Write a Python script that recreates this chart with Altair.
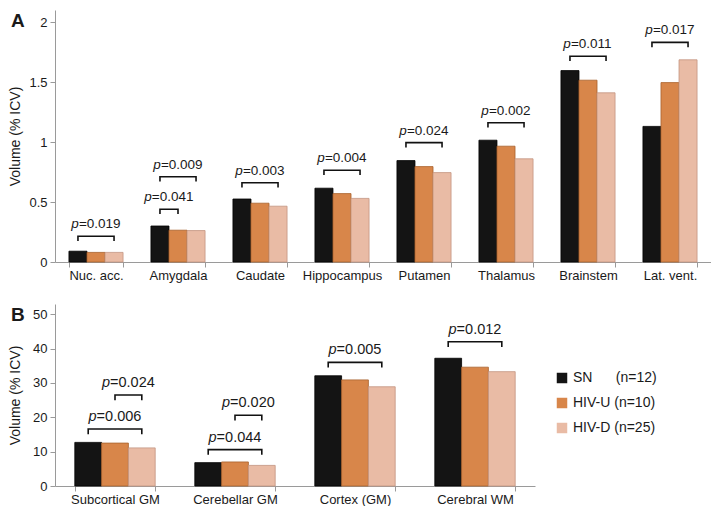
import altair as alt
import pandas as pd

FONT = "Liberation Sans"
NB = "\u00a0"

groups = ["SN", "HIV-U", "HIV-D"]
legend_labels = ["SN" + NB * 6 + "(n=12)", "HIV-U (n=10)", "HIV-D (n=25)"]
colors = ["#141414", "#d8864a", "#e9bba5"]
edge_colors = ["#000000", "#a8622d", "#c39480"]

# Panel A
regions_a = ["Nuc. acc.", "Amygdala", "Caudate", "Hippocampus", "Putamen",
             "Thalamus", "Brainstem", "Lat. vent."]
sn_a = [0.09, 0.30, 0.525, 0.615, 0.845, 1.015, 1.595, 1.13]
hivu_a = [0.08, 0.265, 0.49, 0.57, 0.795, 0.965, 1.515, 1.495]
hivd_a = [0.08, 0.262, 0.465, 0.53, 0.745, 0.86, 1.41, 1.685]

br_a_region = ["Nuc. acc.", "Amygdala", "Amygdala", "Caudate", "Hippocampus",
               "Putamen", "Thalamus", "Brainstem", "Lat. vent."]
br_a_from = ["SN", "SN", "SN", "SN", "SN", "SN", "SN", "SN", "SN"]
br_a_to = ["HIV-D", "HIV-U", "HIV-D", "HIV-D", "HIV-D", "HIV-D", "HIV-D", "HIV-D", "HIV-D"]
br_a_level = [0.215, 0.44, 0.71, 0.66, 0.765, 0.995, 1.16, 1.715, 1.83]
br_a_label = ["=0.019", "=0.041", "=0.009", "=0.003", "=0.004", "=0.024",
              "=0.002", "=0.011", "=0.017"]

# Panel B
regions_b = ["Subcortical GM", "Cerebellar GM", "Cortex (GM)", "Cerebral WM"]
sn_b = [12.7, 6.8, 32.1, 37.2]
hivu_b = [12.5, 7.0, 30.9, 34.6]
hivd_b = [11.1, 6.0, 28.9, 33.3]

br_b_region = ["Subcortical GM", "Subcortical GM", "Cerebellar GM", "Cerebellar GM",
               "Cortex (GM)", "Cerebral WM"]
br_b_from = ["SN", "HIV-U", "SN", "HIV-U", "SN", "SN"]
br_b_to = ["HIV-D", "HIV-D", "HIV-D", "HIV-D", "HIV-D", "HIV-D"]
br_b_level = [16.6, 26.5, 10.6, 20.6, 36.0, 42.0]
br_b_label = ["=0.006", "=0.024", "=0.044", "=0.020", "=0.005", "=0.012"]


def bars_df(regions, sn, u, d):
    rows = []
    for i, r in enumerate(regions):
        for g, v in zip(groups, (sn[i], u[i], d[i])):
            rows.append({"region": r, "group": g, "value": v})
    return pd.DataFrame(rows)


def bracket_df(regions, frm, to, level, drop):
    rows = []
    for k, (r, f, t, lv) in enumerate(zip(regions, frm, to, level)):
        pts = [(f, lv - drop), (f, lv), (t, lv), (t, lv - drop)]
        for j, (g, yv) in enumerate(pts):
            rows.append({"bid": k, "region": r, "group": g, "value": yv, "ord": j})
    return pd.DataFrame(rows)


def text_df(regions, frm, to, level, labels):
    rows = []
    for r, f, t, lv, lb in zip(regions, frm, to, level, labels):
        if f == "SN" and t == "HIV-D":
            anchor, kind = "HIV-U", 0
        elif f == "SN":
            anchor, kind = "SN", 1
        else:
            anchor, kind = "HIV-D", -1
        rows.append({"region": r, "group": anchor, "value": lv, "label": lb, "kind": kind})
    return pd.DataFrame(rows)


label_expr = ("datum.label == 'SN' ? '%s' : datum.label == 'HIV-U' ? '%s' : '%s'"
              % tuple(legend_labels))


def panel(letter, regions, df, bdf, tdf, width, height, pad_inner, ymax, yvals,
          yfmt, fs, show_legend, legend_y=69):
    bw = width / len(regions) * (1 - pad_inner) / 3.0
    x = alt.X("region:N", sort=regions,
              scale=alt.Scale(paddingInner=pad_inner, paddingOuter=pad_inner / 2),
              axis=alt.Axis(title=None, labelAngle=0, tickBand="extent", tickSize=5,
                            labelPadding=2, labelFontSize=13, labelColor="#1a1a1a",
                            labelFont=FONT, domainColor="#9a9a9a", tickColor="#9a9a9a"))
    y = alt.Y("value:Q", scale=alt.Scale(domain=[0, ymax], nice=False, zero=True),
              axis=alt.Axis(values=yvals, format=yfmt, title="Volume (% ICV)",
                            titleFont=FONT, titleFontSize=14, titleFontWeight="normal",
                            titleColor="#1a1a1a", titlePadding=5,
                            labelFontSize=13, labelFont=FONT, labelColor="#1a1a1a",
                            labelPadding=3, tickSize=5, minExtent=28, maxExtent=28,
                            domainColor="#9a9a9a", tickColor="#9a9a9a", grid=False))
    xoff = alt.XOffset("group:N", sort=groups,
                       scale=alt.Scale(domain=groups, paddingInner=0, paddingOuter=0))
    if show_legend:
        leg = alt.Legend(orient="none", legendX=500, legendY=legend_y, title=None,
                         symbolType="square", symbolSize=110, symbolStrokeWidth=0,
                         labelFontSize=14, labelFont=FONT, labelColor="#1a1a1a",
                         rowPadding=11, labelExpr=label_expr)
    else:
        leg = None
    bars = alt.Chart(df).mark_bar(strokeWidth=0.8).encode(
        x=x, xOffset=xoff, y=y,
        color=alt.Color("group:N", scale=alt.Scale(domain=groups, range=colors), legend=leg),
        stroke=alt.Stroke("group:N", scale=alt.Scale(domain=groups, range=edge_colors),
                          legend=None),
    )
    brackets = alt.Chart(bdf).mark_line(color="#111111", strokeWidth=1.6).encode(
        x=x, xOffset=xoff, y=y, detail="bid:N", order="ord:Q")
    layers = [bars, brackets]
    rest_w = fs * (8.2 + 7.8 * 4 + 3.9) / 14.0
    p_w = fs * 7.8 / 14.0
    join = -rest_w / 2 + p_w / 2
    for kind in sorted(tdf["kind"].unique()):
        sub = tdf[tdf["kind"] == kind]
        dxv = join + kind * bw / 2
        pt = alt.Chart(sub).mark_text(font=FONT, fontSize=fs, fontStyle="italic",
                                      align="right", baseline="alphabetic",
                                      dx=dxv, dy=-8, color="#1a1a1a").encode(
            x=x, xOffset=xoff, y=y, text=alt.value("p"))
        lt = alt.Chart(sub).mark_text(font=FONT, fontSize=fs, align="left",
                                      baseline="alphabetic", dx=dxv, dy=-8,
                                      color="#1a1a1a").encode(
            x=x, xOffset=xoff, y=y, text="label:N")
        layers += [pt, lt]
    let = alt.Chart(pd.DataFrame({"t": [letter]})).mark_text(
        font=FONT, fontSize=19, fontWeight="bold", align="left", baseline="top",
        color="#1a1a1a").encode(x=alt.value(-44), y=alt.value(2), text="t:N")
    layers.append(let)
    return alt.layer(*layers).properties(width=width, height=height)


dfa = bars_df(regions_a, sn_a, hivu_a, hivd_a)
bfa = bracket_df(br_a_region, br_a_from, br_a_to, br_a_level, 0.04)
tfa = text_df(br_a_region, br_a_from, br_a_to, br_a_level, br_a_label)

dfb = bars_df(regions_b, sn_b, hivu_b, hivd_b)
bfb = bracket_df(br_b_region, br_b_from, br_b_to, br_b_level, 1.5)
tfb = text_df(br_b_region, br_b_from, br_b_to, br_b_level, br_b_label)

pa = panel("A", regions_a, dfa, bfa, tfa, 656, 252, 0.34, 2.1, [0, 0.5, 1, 1.5, 2],
           "~g", 13.5, False)
pb = panel("B", regions_b, dfb, bfb, tfb, 480, 182, 0.33, 53, [0, 10, 20, 30, 40, 50],
           "d", 14.5, True, legend_y=67)

chart = alt.vconcat(pa, pb, spacing=22).resolve_scale(
    color="independent", stroke="independent", x="independent", y="independent",
    xOffset="independent"
).properties(
    padding={"left": 0, "top": 2, "right": 0, "bottom": 0}
).configure(font=FONT).configure_view(strokeWidth=0, stroke=None)

chart.save("out.html", embed_options={"renderer": "svg", "actions": False})
